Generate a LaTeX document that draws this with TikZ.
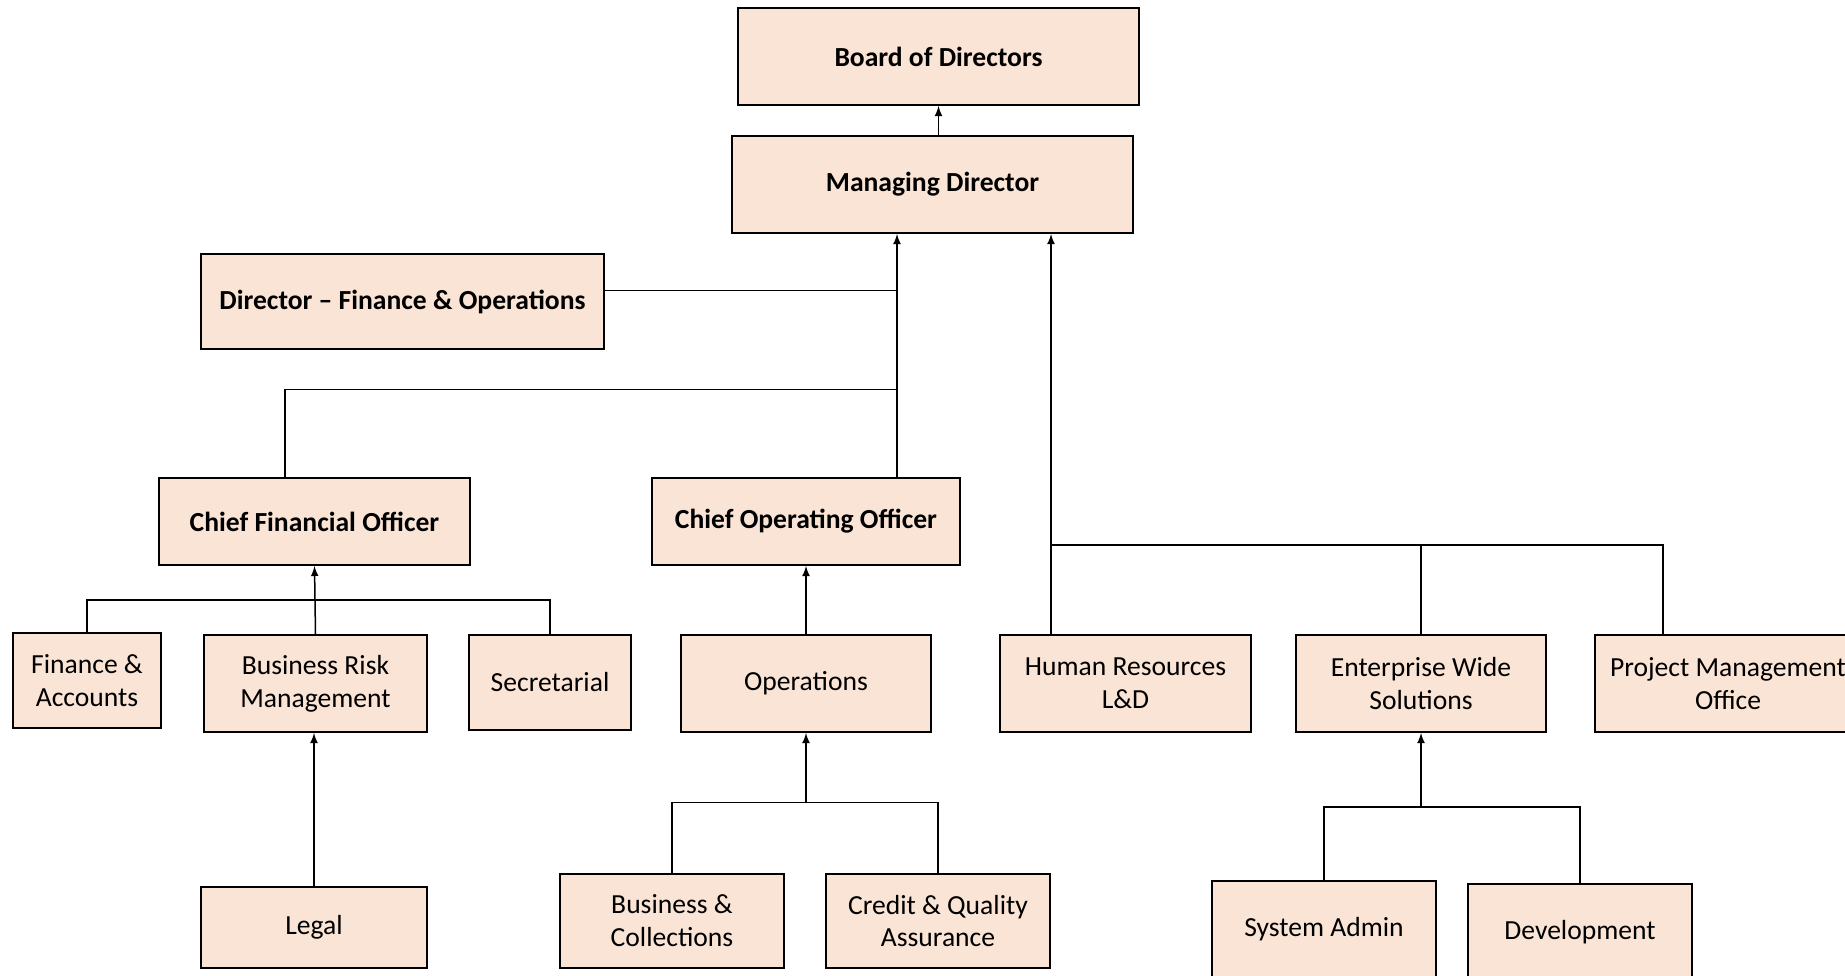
\documentclass[tikz,border=0pt]{standalone}
\usepackage{fontspec}
\setmainfont{Carlito}
\definecolor{peach}{RGB}{250,228,214}
\begin{document}
\begin{tikzpicture}[>=latex,x=0.5pt,y=-0.5pt,
  box/.style={draw,fill=peach,line width=0.9pt,align=center,inner sep=0pt,
    font=\fontsize{13.8}{16.5}\selectfont},
  head/.style={box,font=\fontsize{13.8}{16.5}\selectfont\bfseries},
  link/.style={line width=0.75pt}]
\useasboundingbox (0,0) rectangle (1845,975);
% top levels
\node[head,minimum width=200.5pt,minimum height=48.5pt] (board) at (938.5,56.5) {Board of Directors};
\node[head,minimum width=200.5pt,minimum height=48.5pt] (md) at (932.5,184.5) {Managing Director};
\node[head,minimum width=201.5pt,minimum height=47.5pt] (dfo) at (402.5,301.5) {Director -- Finance \& Operations};
\node[head,minimum width=155.5pt,minimum height=43.5pt] (cfo) at (314.5,521.5) {Chief Financial Officer};
\node[head,minimum width=154pt,minimum height=43.5pt] (coo) at (806,521.5) {Chief Operating Officer};
% departments
\node[box,minimum width=74pt,minimum height=47.5pt] (fa) at (87,680.5) {Finance \&\\Accounts};
\node[box,minimum width=111.5pt,minimum height=48.5pt] (brm) at (315.5,683.5) {Business Risk\\Management};
\node[box,minimum width=81pt,minimum height=47.5pt] (sec) at (550,682.5) {Secretarial};
\node[box,minimum width=125pt,minimum height=48.5pt] (ops) at (806,683.5) {Operations};
\node[box,minimum width=125.5pt,minimum height=48.5pt] (hr) at (1125.5,683.5) {Human Resources\\L\&D};
\node[box,minimum width=125pt,minimum height=48.5pt] (ews) at (1421,683.5) {Enterprise Wide\\Solutions};
\node[box,minimum width=133pt,minimum height=48.5pt] (pmo) at (1728,683.5) {Project Management\\Office};
% bottom row
\node[box,minimum width=113pt,minimum height=40.5pt] (legal) at (314,927.5) {Legal};
\node[box,minimum width=112pt,minimum height=47pt] (bc) at (672,921) {Business \&\\Collections};
\node[box,minimum width=112pt,minimum height=47pt] (cqa) at (938,921) {Credit \& Quality\\Assurance};
\node[box,minimum width=112pt,minimum height=48.5pt] (sys) at (1324,929.5) {System Admin};
\node[box,minimum width=112pt,minimum height=48.5pt] (dev) at (1580,932.5) {Development};
% connectors
\coordinate (t1) at (897,389.5);
\coordinate (t2) at (1051,544.8);
\coordinate (c1) at (285,389.5);
\coordinate (k1) at (314,600);
\coordinate (k2) at (806,802.5);
\coordinate (k3) at (1421,807);
\draw[->,link] (board.south |- md.north) -- (board.south);
\draw[->,link] (coo.north -| t1) -- (md.south -| t1);
\draw[link] ([yshift=5.5pt]dfo.east) -- ([yshift=5.5pt]dfo.east -| t1);
\draw[link] (c1 |- cfo.north) -- (c1) -- (t1);
\draw[->,link] (hr.north -| t2) -- (md.south -| t2);
\draw[link] (t2) -- (t2 -| 1663,0) -- (pmo.north -| 1663,0);
\draw[link] (ews.north) -- (ews.north |- t2);
\draw[->,link] (brm.north) -- (cfo.south);
\draw[link] (fa.north) -- (fa.north |- k1) -- (sec.north |- k1) -- (sec.north);
\draw[->,link] (legal.north) -- (legal.north |- brm.south);
\draw[->,link] (ops.north) -- (coo.south);
\draw[->,link] (k2) -- (ops.south);
\draw[link] (bc.north) -- (bc.north |- k2) -- (cqa.north |- k2) -- (cqa.north);
\draw[->,link] (k3) -- (ews.south);
\draw[link] (sys.north) -- (sys.north |- k3) -- (dev.north |- k3) -- (dev.north);
\end{tikzpicture}
\end{document}
